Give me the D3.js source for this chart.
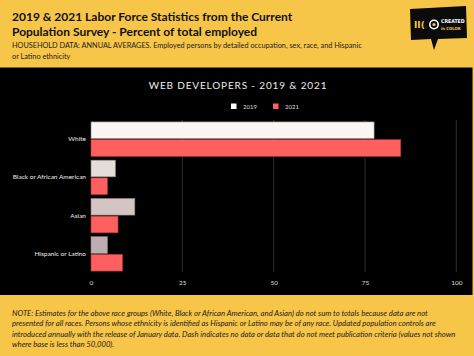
<!DOCTYPE html>
<html><head><meta charset="utf-8">
<script src="https://cdn.jsdelivr.net/npm/d3@7"></script>
<style>
html,body{margin:0;padding:0;background:#F7C548;}
svg{display:block;}
</style></head>
<body>
<svg id="chart" width="474" height="356"></svg>
<script>
// ---- data ----
const categories = ["White", "Black or African American", "Asian", "Hispanic or Latino"];
const series = ["2019", "2021"];
const values2019 = [77.5, 6.7, 12.0, 4.5];
const values2021 = [84.8, 4.5, 7.4, 8.6];
const tickValues = [0, 25, 50, 75, 100];
const titleLines = ["2019 & 2021 Labor Force Statistics from the Current", "Population Survey - Percent of total employed"];
const subtitleLines = ["HOUSEHOLD DATA: ANNUAL AVERAGES. Employed persons by detailed occupation, sex, race, and Hispanic", "or Latino ethnicity"];
const chartTitle = "WEB DEVELOPERS - 2019 & 2021";
const noteLines = [
  "NOTE: Estimates for the above race groups (White, Black or African American, and Asian) do not sum to totals because data are not",
  "presented for all races. Persons whose ethnicity is identified as Hispanic or Latino may be of any race. Updated population controls are",
  "introduced annually with the release of January data. Dash indicates no data or data that do not meet publication criteria (values not shown",
  "where base is less than 50,000)."
];

// ---- styles ----
const yellow = "#F7C548";
const fill2019 = ["#FAF6F3", "#E6DDDA", "#D5C4C4", "#BFAEB1"];
const fill2021 = "#FF5F5F";

const svg = d3.select("#chart");
svg.append("rect").attr("width", 474).attr("height", 356).attr("fill", yellow);

// header
const head = svg.append("g");
head.selectAll("text.t").data(titleLines).join("text")
  .attr("x", 12).attr("y", (d, i) => 21 + i * 15)
  .attr("font-family", "Lato, sans-serif").attr("font-weight", 700).attr("font-size", 12)
  .attr("fill", "#111").text(d => d);
head.selectAll("text.s").data(subtitleLines).join("text")
  .attr("x", 12).attr("y", (d, i) => 48 + i * 11)
  .attr("font-family", "Lato, sans-serif").attr("font-size", 7.3)
  .attr("fill", "#222").text(d => d);

// logo
const logo = svg.append("g");
logo.append("path")
  .attr("d", "M410,9 L466,6 L467,38 L438,39 L434,50 L431,39 L411,40 Z")
  .attr("fill", "#0b0b0b");
logo.append("text").attr("x", 414).attr("y", 28).attr("font-family", "DejaVu Sans, sans-serif")
  .attr("font-size", 9).attr("font-weight", 700).attr("fill", yellow).text("II(");
logo.append("circle").attr("cx", 434).attr("cy", 24.5).attr("r", 4.2).attr("fill", "none").attr("stroke", "#fff").attr("stroke-width", 1.6);
logo.append("circle").attr("cx", 434).attr("cy", 24.5).attr("r", 1.6).attr("fill", yellow);
logo.append("text").attr("x", 441).attr("y", 23).attr("font-family", "DejaVu Sans Condensed, sans-serif")
  .attr("font-size", 5.2).attr("font-weight", 700).attr("fill", "#fff").text("CREATED");
logo.append("text").attr("x", 441).attr("y", 29.5).attr("font-family", "DejaVu Sans Condensed, sans-serif")
  .attr("font-size", 4.2).attr("font-weight", 700).attr("fill", yellow).text("in COLOR");

// black panel
svg.append("rect").attr("x", 0).attr("y", 67.5).attr("width", 472.5).attr("height", 227.5).attr("fill", "#000");

// chart title
svg.append("text").attr("x", 238).attr("y", 88.5).attr("text-anchor", "middle")
  .attr("font-family", "Lato, sans-serif").attr("font-weight", 400).attr("font-size", 10)
  .attr("letter-spacing", 0.85).attr("fill", "#eee").text(chartTitle);

// scales
const x = d3.scaleLinear().domain([0, 100]).range([91, 456.3]);
const y = d3.scaleBand().domain(categories).range([120, 273]).paddingInner(0.1).paddingOuter(0.05);
const ySub = d3.scaleBand().domain(series).range([0, y.bandwidth()]).paddingInner(0.06);

// grid
const grid = svg.append("g");
grid.selectAll("line").data(tickValues.filter(d => d > 0)).join("line")
  .attr("x1", d => x(d)).attr("x2", d => x(d))
  .attr("y1", 120).attr("y2", 272)
  .attr("stroke", "#3a3a3a").attr("stroke-width", 0.8);

// x axis
const xAxis = svg.append("g").attr("transform", "translate(0,273)")
  .call(d3.axisBottom(x).tickValues(tickValues).tickSize(0).tickPadding(7).tickFormat(d3.format("d")));
xAxis.select(".domain").remove();
xAxis.selectAll("text").attr("fill", "#ddd").attr("font-family", "Lato, sans-serif").attr("font-size", 6.5);

// y axis labels
const yAxis = svg.append("g").attr("transform", "translate(86,0)")
  .call(d3.axisLeft(y).tickSize(0).tickPadding(0));
yAxis.select(".domain").remove();
yAxis.selectAll("text").attr("fill", "#eee").attr("font-family", "Lato, sans-serif").attr("font-size", 6.5);

// bars
const rows = categories.map((c, i) => ({ c, i, v: [values2019[i], values2021[i]] }));
const groups = svg.append("g").selectAll("g").data(rows).join("g")
  .attr("transform", d => `translate(0,${y(d.c)})`);
groups.selectAll("rect").data(d => series.map((s, j) => ({ s, v: d.v[j], i: d.i }))).join("rect")
  .attr("x", x(0))
  .attr("y", d => ySub(d.s))
  .attr("width", d => x(d.v) - x(0))
  .attr("height", ySub.bandwidth())
  .attr("fill", d => d.s === "2019" ? fill2019[d.i] : fill2021)
  .attr("stroke", d => d.s === "2019" ? "#8a8080" : "#a83a3a")
  .attr("stroke-width", 0.6);

// legend
const legend = svg.append("g").attr("transform", "translate(231,103.5)");
const li = legend.selectAll("g").data(series).join("g")
  .attr("transform", (d, i) => `translate(${i * 42},0)`);
li.append("rect").attr("width", 5.5).attr("height", 5.5)
  .attr("fill", (d, i) => i === 0 ? "#fff" : fill2021);
li.append("text").attr("x", 12).attr("y", 5.2).attr("font-family", "Lato, sans-serif")
  .attr("font-size", 6).attr("fill", "#ddd").text(d => d);

// note
svg.append("g").selectAll("text").data(noteLines).join("text")
  .attr("x", 12).attr("y", (d, i) => 316 + i * 10.4)
  .attr("font-family", "Lato, sans-serif").attr("font-style", "italic").attr("font-size", 7.7)
  .attr("fill", "#222").text(d => d);
</script>
</body></html>
